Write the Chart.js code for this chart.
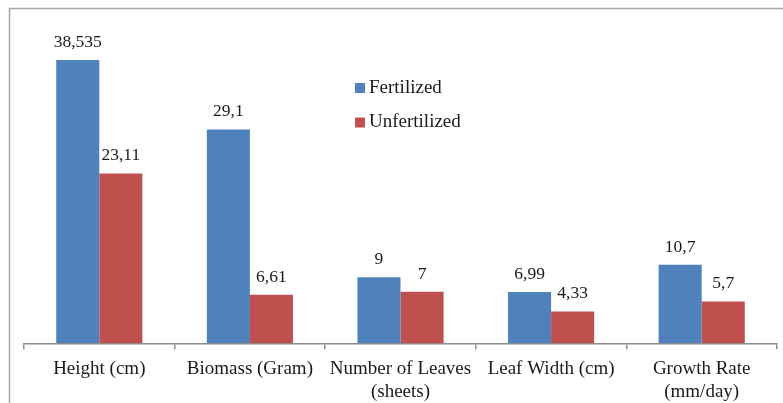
<!DOCTYPE html>
<html>
<head>
<meta charset="utf-8">
<script src="https://cdn.jsdelivr.net/npm/chart.js@4/dist/chart.umd.min.js"></script>
<style>
  html, body { margin: 0; padding: 0; background: #fff; }
  #wrap { width: 783px; height: 403px; }
</style>
</head>
<body>
<div id="wrap"><canvas id="chart" width="783" height="403"></canvas></div>
<script>
// data
const categories = ['Height (cm)', 'Biomass (Gram)', ['Number of Leaves', '(sheets)'], 'Leaf Width (cm)', ['Growth Rate', '(mm/day)']];
const fertilized = [38.535, 29.1, 9, 6.99, 10.7];
const unfertilized = [23.11, 6.61, 7, 4.33, 5.7];
const seriesNames = ['Fertilized', 'Unfertilized'];

const colors = { blue: '#4F81BD', red: '#C0504D', axis: '#8c8c8c', text: '#1a1a1a' };
const serif = "'Liberation Serif', 'DejaVu Serif', serif";

// outer frame (cut off at right/bottom like the source)
const framePlugin = {
    id: 'frame',
    afterDraw: (chart) => {
        const ctx = chart.ctx;
        ctx.save();
        ctx.strokeStyle = '#a6a6a6';
        ctx.lineWidth = 1.5;
        ctx.strokeRect(9.5, 8.5, 800, 420);
        ctx.restore();
    }
};

// values above bars, comma decimals
const valueLabels = {
    id: 'valueLabels',
    afterDatasetsDraw: (chart) => {
        const ctx = chart.ctx;
        ctx.save();
        ctx.font = '17.5px ' + serif;
        ctx.fillStyle = colors.text;
        ctx.textAlign = 'center';
        ctx.textBaseline = 'alphabetic';
        chart.data.datasets.forEach((ds, i) => {
            chart.getDatasetMeta(i).data.forEach((bar, j) => {
                const txt = String(ds.data[j]).replace('.', ',');
                ctx.fillText(txt, bar.x, bar.y - 13);
            });
        });
        ctx.restore();
    }
};

// legend inside the plot
const innerLegend = {
    id: 'innerLegend',
    afterDraw: (chart) => {
        const ctx = chart.ctx;
        ctx.save();
        ctx.font = '19px ' + serif;
        ctx.textBaseline = 'middle';
        chart.data.datasets.forEach((ds, i) => {
            const y = 88 + i * 34.5;
            ctx.fillStyle = ds.backgroundColor;
            ctx.fillRect(355, y - 5, 10, 10);
            ctx.fillStyle = colors.text;
            ctx.fillText(ds.label, 369, y);
        });
        ctx.restore();
    }
};

new Chart(document.getElementById('chart').getContext('2d'), {
    type: 'bar',
    data: {
        labels: categories,
        datasets: [
            { label: seriesNames[0], data: fertilized, backgroundColor: colors.blue },
            { label: seriesNames[1], data: unfertilized, backgroundColor: colors.red }
        ]
    },
    options: {
        responsive: false,
        animation: false,
        layout: { padding: { left: 24, right: 6, top: 12.5, bottom: 0 } },
        datasets: { bar: { barPercentage: 1, categoryPercentage: 0.572 } },
        scales: {
            x: {
                afterFit: (s) => { s.height = 59.7; },
                border: { display: true, color: colors.axis, width: 1.5 },
                grid: { offset: true, drawOnChartArea: false, drawTicks: true, tickLength: 6, color: colors.axis, lineWidth: 1.5 },
                ticks: { color: colors.text, font: { family: serif, size: 19, lineHeight: 1.17 }, padding: 9, maxRotation: 0, autoSkip: false }
            },
            y: {
                display: false,
                min: 0,
                max: 45
            }
        },
        plugins: {
            legend: { display: false },
            tooltip: { enabled: false }
        }
    },
    plugins: [framePlugin, valueLabels, innerLegend]
});
</script>
</body>
</html>
